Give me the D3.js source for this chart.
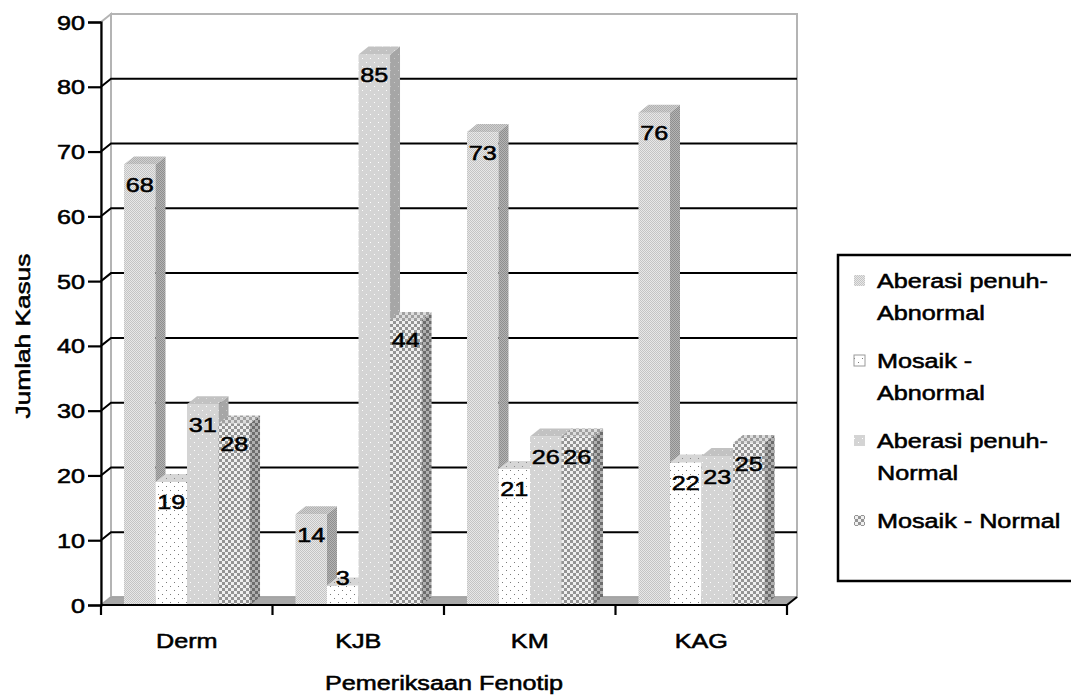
<!DOCTYPE html>
<html>
<head>
<meta charset="utf-8">
<script src="https://cdn.jsdelivr.net/npm/d3@7"></script>
<style>
  html, body { margin: 0; padding: 0; background: #fff; }
  svg { display: block; }
  text { font-family: "Liberation Sans", Arial, sans-serif; fill: #000; }
</style>
</head>
<body>
<svg id="chart" width="1071" height="697"></svg>
<script>
// ---------- data ----------
const categories = ["Derm", "KJB", "KM", "KAG"];
const seriesNames = ["Aberasi penuh-Abnormal", "Mosaik - Abnormal", "Aberasi penuh-Normal", "Mosaik - Normal"];
const legendLines = [["Aberasi penuh-", "Abnormal"], ["Mosaik -", "Abnormal"], ["Aberasi penuh-", "Normal"], ["Mosaik - Normal"]];
const aberasiAbnormal = [68, 14, 73, 76];
const mosaikAbnormal = [19, 3, 21, 22];
const aberasiNormal = [31, 85, 26, 23];
const mosaikNormal = [28, 44, 26, 25];
const yTicks = [0, 10, 20, 30, 40, 50, 60, 70, 80, 90];
const xTitle = "Pemeriksaan Fenotip";
const yTitle = "Jumlah Kasus";

const seriesValues = [aberasiAbnormal, mosaikAbnormal, aberasiNormal, mosaikNormal];

// ---------- layout ----------
const svg = d3.select("#chart");
const pLeft = 101, pRight = 787, pBase = 605, pTop = 22;
const DX = 10, DY = -8;
const SX = 1.2; // horizontal text stretch
const FONT = 21;
const TSTROKE = 0.55;

const y = d3.scaleLinear().domain([0, 90]).range([pBase, pTop]);
const x0 = d3.scaleBand().domain(categories).range([pLeft, pRight]);
const bw = x0.bandwidth();
const x1 = d3.scaleBand().domain(seriesNames).range([bw * 0.134, bw * 0.869]);

// ---------- patterns ----------
const defs = svg.append("defs");
function checker(id, size, c1, c2) {
  const p = defs.append("pattern").attr("id", id).attr("patternUnits", "userSpaceOnUse")
    .attr("width", size * 2).attr("height", size * 2);
  p.append("rect").attr("width", size * 2).attr("height", size * 2).attr("fill", c1);
  p.append("rect").attr("width", size).attr("height", size).attr("fill", c2);
  p.append("rect").attr("x", size).attr("y", size).attr("width", size).attr("height", size).attr("fill", c2);
}
function dots(id, bg, dot) {
  const p = defs.append("pattern").attr("id", id).attr("patternUnits", "userSpaceOnUse")
    .attr("width", 8).attr("height", 8);
  p.append("rect").attr("width", 8).attr("height", 8).attr("fill", bg);
  p.append("rect").attr("x", 2).attr("y", 2).attr("width", 1).attr("height", 1).attr("fill", dot);
  p.append("rect").attr("x", 6).attr("y", 6).attr("width", 1).attr("height", 1).attr("fill", dot);
}
checker("p0f", 1, "#e8e8e8", "#c4c4c4");
checker("p0s", 1, "#b4b4b4", "#8e8e8e");
checker("p0t", 1, "#d0d0d0", "#b0b0b0");
dots("p1f", "#ffffff", "#7a7a7a");
dots("p1s", "#bcbcbc", "#8a8a8a");
dots("p1t", "#d6d6d6", "#8a8a8a");
dots("p2f", "#d4d4d4", "#ffffff");
dots("p2s", "#a6a6a6", "#c8c8c8");
dots("p2t", "#c2c2c2", "#e0e0e0");
checker("p3f", 3, "#f0f0f0", "#949494");
checker("p3s", 3, "#b0b0b0", "#6c6c6c");
checker("p3t", 3, "#dddddd", "#a0a0a0");

// ---------- walls & floor ----------
const wall = svg.append("g");
wall.append("rect").attr("x", pLeft + DX).attr("y", pTop + DY)
  .attr("width", pRight - pLeft).attr("height", pBase - pTop)
  .attr("fill", "#fff").attr("stroke", "#b4b4b4").attr("stroke-width", 2);
wall.append("path")
  .attr("d", `M${pLeft},${pTop} L${pLeft + DX},${pTop + DY} L${pLeft + DX},${pBase + DY} L${pLeft},${pBase} Z`)
  .attr("fill", "#fff").attr("stroke", "#b4b4b4").attr("stroke-width", 2);
wall.append("path")
  .attr("d", `M${pLeft},${pBase} L${pLeft + DX},${pBase + DY} L${pRight + DX},${pBase + DY} L${pRight},${pBase} Z`)
  .attr("fill", "#a8a8a8").attr("stroke", "#a0a0a0").attr("stroke-width", 1);

// gridlines
const grid = svg.append("g");
yTicks.filter(v => v > 0 && v < 90).forEach(v => {
  grid.append("path")
    .attr("d", `M${pLeft},${y(v)} L${pLeft + DX},${y(v) + DY} L${pRight + DX},${y(v) + DY}`)
    .attr("fill", "none").attr("stroke", "#000").attr("stroke-width", 2);
});

// ---------- bars ----------
const barsG = svg.append("g");
categories.forEach((cat, ci) => {
  seriesNames.forEach((s, si) => {
    const v = seriesValues[si][ci];
    const bx = x0(cat) + x1(s);
    const w = x1.bandwidth();
    const ty = y(v);
    const g = barsG.append("g");
    g.append("rect").attr("x", bx).attr("y", ty).attr("width", w).attr("height", pBase - ty)
      .attr("fill", `url(#p${si}f)`);
    g.append("path")
      .attr("d", `M${bx + w},${ty} L${bx + w + DX},${ty + DY} L${bx + w + DX},${pBase + DY} L${bx + w},${pBase} Z`)
      .attr("fill", `url(#p${si}s)`);
    g.append("path")
      .attr("d", `M${bx},${ty} L${bx + DX},${ty + DY} L${bx + w + DX},${ty + DY} L${bx + w},${ty} Z`)
      .attr("fill", `url(#p${si}t)`);
  });
});

// text helper (stretched horizontally like the reference)
function stext(g, x, yy, str, anchor, size) {
  return g.append("text")
    .attr("transform", `translate(${x},${yy}) scale(${SX},1)`)
    .attr("text-anchor", anchor)
    .attr("font-size", size || FONT)
    .attr("stroke", "#000").attr("stroke-width", TSTROKE)
    .text(str);
}
const labG = svg.append("g");
categories.forEach((cat, ci) => {
  seriesNames.forEach((s, si) => {
    const v = seriesValues[si][ci];
    const cx = x0(cat) + x1(s) + x1.bandwidth() / 2;
    const ty = y(v);
    const cy = (pBase - ty) > 30 ? ty + 20 : ty - 8;
    stext(labG, cx, cy + 7.5, String(v), "middle");
  });
});

// ---------- axes ----------
const ax = svg.append("g");
const yAxis = d3.axisLeft(y).tickValues(yTicks).tickSize(13).tickPadding(3).tickFormat(d3.format("d"));
const yg = ax.append("g").attr("transform", `translate(${pLeft},0)`).call(yAxis);
yg.select(".domain").attr("stroke", "#000").attr("stroke-width", 2.2);
yg.selectAll(".tick line").attr("stroke", "#000").attr("stroke-width", 2.2);
yg.selectAll(".tick text").remove();
yTicks.forEach(v => stext(ax, pLeft - 16, y(v) + 7.5, String(v), "end"));

const xg = ax.append("g").attr("transform", `translate(0,${pBase})`);
xg.append("line").attr("x1", pLeft).attr("x2", pRight).attr("stroke", "#000").attr("stroke-width", 2.2);
xg.append("line").attr("x1", pRight).attr("y1", 0).attr("x2", pRight + DX).attr("y2", DY)
  .attr("stroke", "#000").attr("stroke-width", 2);
const bounds = categories.map(c => x0(c)).concat([pRight]);
bounds.forEach(bx => {
  xg.append("line").attr("x1", bx).attr("x2", bx).attr("y1", 0).attr("y2", 10)
    .attr("stroke", "#000").attr("stroke-width", 2.2);
});
categories.forEach(c => stext(ax, x0(c) + bw / 2, 648, c, "middle"));

stext(ax, (pLeft + pRight) / 2, 690, xTitle, "middle");
ax.append("text")
  .attr("transform", `translate(30,336) rotate(-90) scale(1.25,1)`)
  .attr("text-anchor", "middle").attr("font-size", FONT)
  .attr("stroke", "#000").attr("stroke-width", TSTROKE)
  .text(yTitle);

// ---------- legend ----------
const lg = svg.append("g");
lg.append("rect").attr("x", 838).attr("y", 255).attr("width", 250).attr("height", 326)
  .attr("fill", "#fff").attr("stroke", "#000").attr("stroke-width", 2.5);
seriesNames.forEach((s, i) => {
  const by = 288 + i * 80;
  lg.append("rect").attr("x", 854).attr("y", by - 13).attr("width", 11).attr("height", 11)
    .attr("fill", `url(#p${i}f)`)
    .attr("stroke", i === 1 ? "#9a9a9a" : "none").attr("stroke-width", 1);
  legendLines[i].forEach((line, li) => {
    stext(lg, 877, by + li * 32, line, "start");
  });
});
</script>
</body>
</html>
